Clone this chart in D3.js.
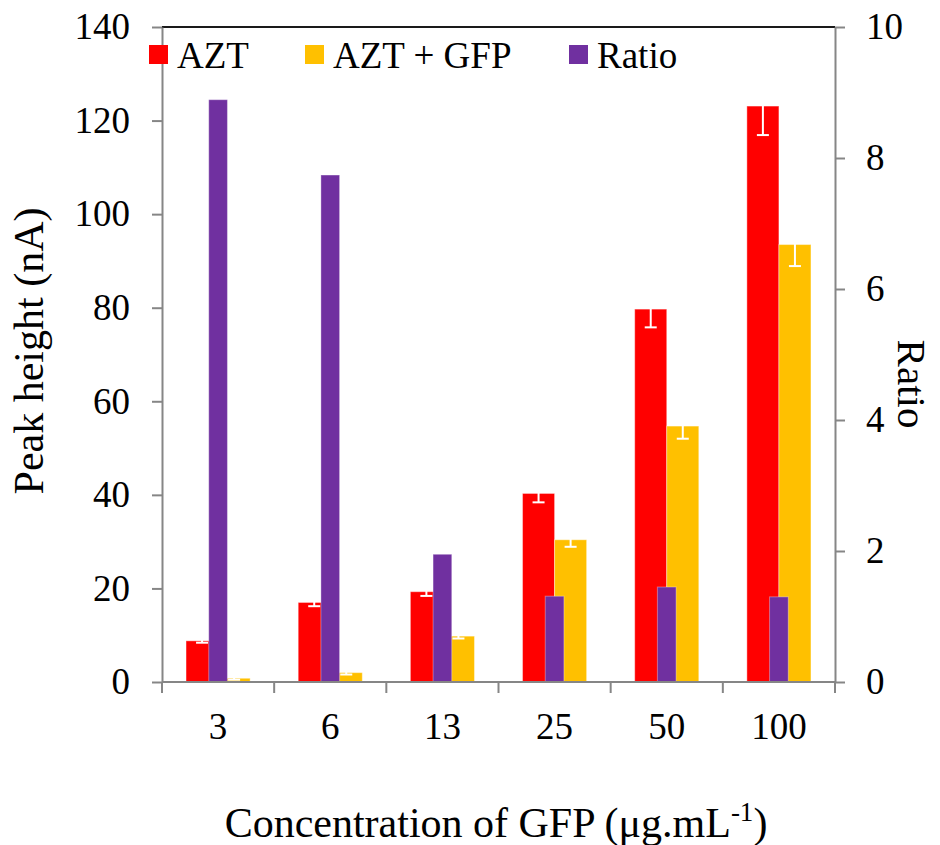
<!DOCTYPE html>
<html><head><meta charset="utf-8">
<script src="https://cdn.jsdelivr.net/npm/d3@7"></script>
<style>
body{margin:0;background:#fff}
svg text{font-family:"Liberation Serif","Times New Roman",serif !important;fill:#000}
</style>
</head><body>
<svg id="c" width="940" height="845"></svg>
<script>
const categories = ["3","6","13","25","50","100"];
const azt = [8.8, 17.0, 19.3, 40.3, 79.7, 123.1];
const aztErr = [0.4, 0.8, 0.9, 1.9, 3.9, 6.2];
const aztGfp = [0.8, 2.0, 9.8, 30.4, 54.7, 93.5];
const aztGfpErr = [0.3, 0.4, 0.5, 1.5, 2.7, 4.6];
const ratio = [8.89, 7.74, 1.95, 1.31, 1.45, 1.30];
const leftTicks = [0,20,40,60,80,100,120,140];
const rightTicks = [0,2,4,6,8,10];
const seriesNames = ["AZT","AZT + GFP","Ratio"];
const seriesColors = ["#FF0000","#FFC000","#7030A0"];

const FONT='"Liberation Serif","Times New Roman",serif';
const L=162, R=835, T=27, B=682;
const axisColor="#868686";
const svg=d3.select("#c");

const x=d3.scaleBand().domain(categories).range([L,R]);
const x1=d3.scaleBand().domain(seriesNames.slice(0,2)).range([0,x.bandwidth()]).paddingOuter(0.75);
const xr=d3.scaleBand().domain(["Ratio"]).range([0,x.bandwidth()]).paddingOuter(2.5);
const y=d3.scaleLinear().domain([0,140]).range([B,T]);
const y2=d3.scaleLinear().domain([0,10]).range([B,T]);
const color=d3.scaleOrdinal().domain(seriesNames).range(seriesColors);

const rows=categories.map((c,i)=>({c, vals:[
  {k:"AZT", v:azt[i], e:aztErr[i]},
  {k:"AZT + GFP", v:aztGfp[i], e:aztGfpErr[i]}
], r:ratio[i]}));

const g=svg.append("g");
const grp=g.selectAll("g.grp").data(rows).join("g").attr("class","grp")
  .attr("transform",d=>`translate(${x(d.c)},0)`);
grp.selectAll("rect").data(d=>d.vals).join("rect")
  .attr("x",d=>x1(d.k)).attr("width",x1.bandwidth())
  .attr("y",d=>y(d.v)).attr("height",d=>B-y(d.v))
  .attr("fill",d=>color(d.k))
  .attr("stroke","rgba(255,255,255,0.4)").attr("stroke-width",1);

const eb=grp.selectAll("g.eb").data(d=>d.vals).join("g").attr("class","eb")
  .attr("stroke","#fff").attr("stroke-width",2);
eb.append("line")
  .attr("x1",d=>x1(d.k)+x1.bandwidth()/2).attr("x2",d=>x1(d.k)+x1.bandwidth()/2)
  .attr("y1",d=>y(d.v+d.e)).attr("y2",d=>y(d.v-d.e));
eb.append("line")
  .attr("x1",d=>x1(d.k)+x1.bandwidth()/2-6).attr("x2",d=>x1(d.k)+x1.bandwidth()/2+6)
  .attr("y1",d=>y(d.v-d.e)).attr("y2",d=>y(d.v-d.e));
eb.append("line")
  .attr("x1",d=>x1(d.k)+x1.bandwidth()/2-6).attr("x2",d=>x1(d.k)+x1.bandwidth()/2+6)
  .attr("y1",d=>y(d.v+d.e)).attr("y2",d=>y(d.v+d.e));

grp.append("rect")
  .attr("x",xr("Ratio")).attr("width",xr.bandwidth())
  .attr("y",d=>y2(d.r)).attr("height",d=>B-y2(d.r))
  .attr("fill",color("Ratio"))
  .attr("stroke","rgba(255,255,255,0.35)").attr("stroke-width",1);

svg.append("line").attr("x1",L).attr("x2",R).attr("y1",T).attr("y2",T)
  .attr("stroke","#1a1a1a").attr("stroke-width",2);

const ax=svg.append("g").attr("transform",`translate(${L},0)`)
  .call(d3.axisLeft(y).tickValues(leftTicks).tickSize(10).tickSizeOuter(0).tickPadding(22));
const ar=svg.append("g").attr("transform",`translate(${R},0)`)
  .call(d3.axisRight(y2).tickValues(rightTicks).tickSize(10).tickSizeOuter(0).tickPadding(21));
const ab=svg.append("g").attr("transform",`translate(0,${B})`)
  .call(d3.axisBottom(x).tickSize(0).tickPadding(31));
ab.select(".domain").remove();
svg.append("line").attr("x1",L).attr("x2",R).attr("y1",B).attr("y2",B)
  .attr("stroke",axisColor).attr("stroke-width",2);
const bounds=categories.map(c=>x(c)).concat([x.range()[1]]);
svg.append("g").selectAll("line").data(bounds).join("line")
  .attr("x1",d=>d).attr("x2",d=>d).attr("y1",B).attr("y2",B+11)
  .attr("stroke",axisColor).attr("stroke-width",2);

[ax,ar].forEach(a=>{
  a.selectAll(".domain").attr("stroke",axisColor).attr("stroke-width",2);
  a.selectAll(".tick line").attr("stroke",axisColor).attr("stroke-width",2);
});
[ax,ar,ab].forEach(a=>{
  a.attr("font-family",FONT);
  a.selectAll(".tick text").attr("font-size",37).style("font-family",FONT).attr("fill","#000");
});

const legX=[149,305,569];
const leg=svg.append("g").selectAll("g").data(seriesNames).join("g")
  .attr("transform",(d,i)=>`translate(${legX[i]},45)`);
leg.append("rect").attr("width",19).attr("height",19).attr("fill",d=>color(d));
leg.append("text").attr("x",28).attr("y",23).attr("font-size",37).style("font-family",FONT).text(d=>d);

svg.append("text").attr("transform","translate(43,351) rotate(-90)")
  .attr("text-anchor","middle").attr("font-size",42).style("font-family",FONT).text("Peak height (nA)");
svg.append("text").attr("transform","translate(898,384) rotate(90)")
  .attr("text-anchor","middle").attr("font-size",41).style("font-family",FONT).text("Ratio");
const xt=svg.append("text").attr("x",496).attr("y",837)
  .attr("text-anchor","middle").attr("font-size",42).style("font-family",FONT);
xt.append("tspan").text("Concentration of GFP (μg.mL");
xt.append("tspan").attr("font-size",27).attr("dy",-16).text("-1");
xt.append("tspan").attr("dy",16).text(")");
</script>
</body></html>
